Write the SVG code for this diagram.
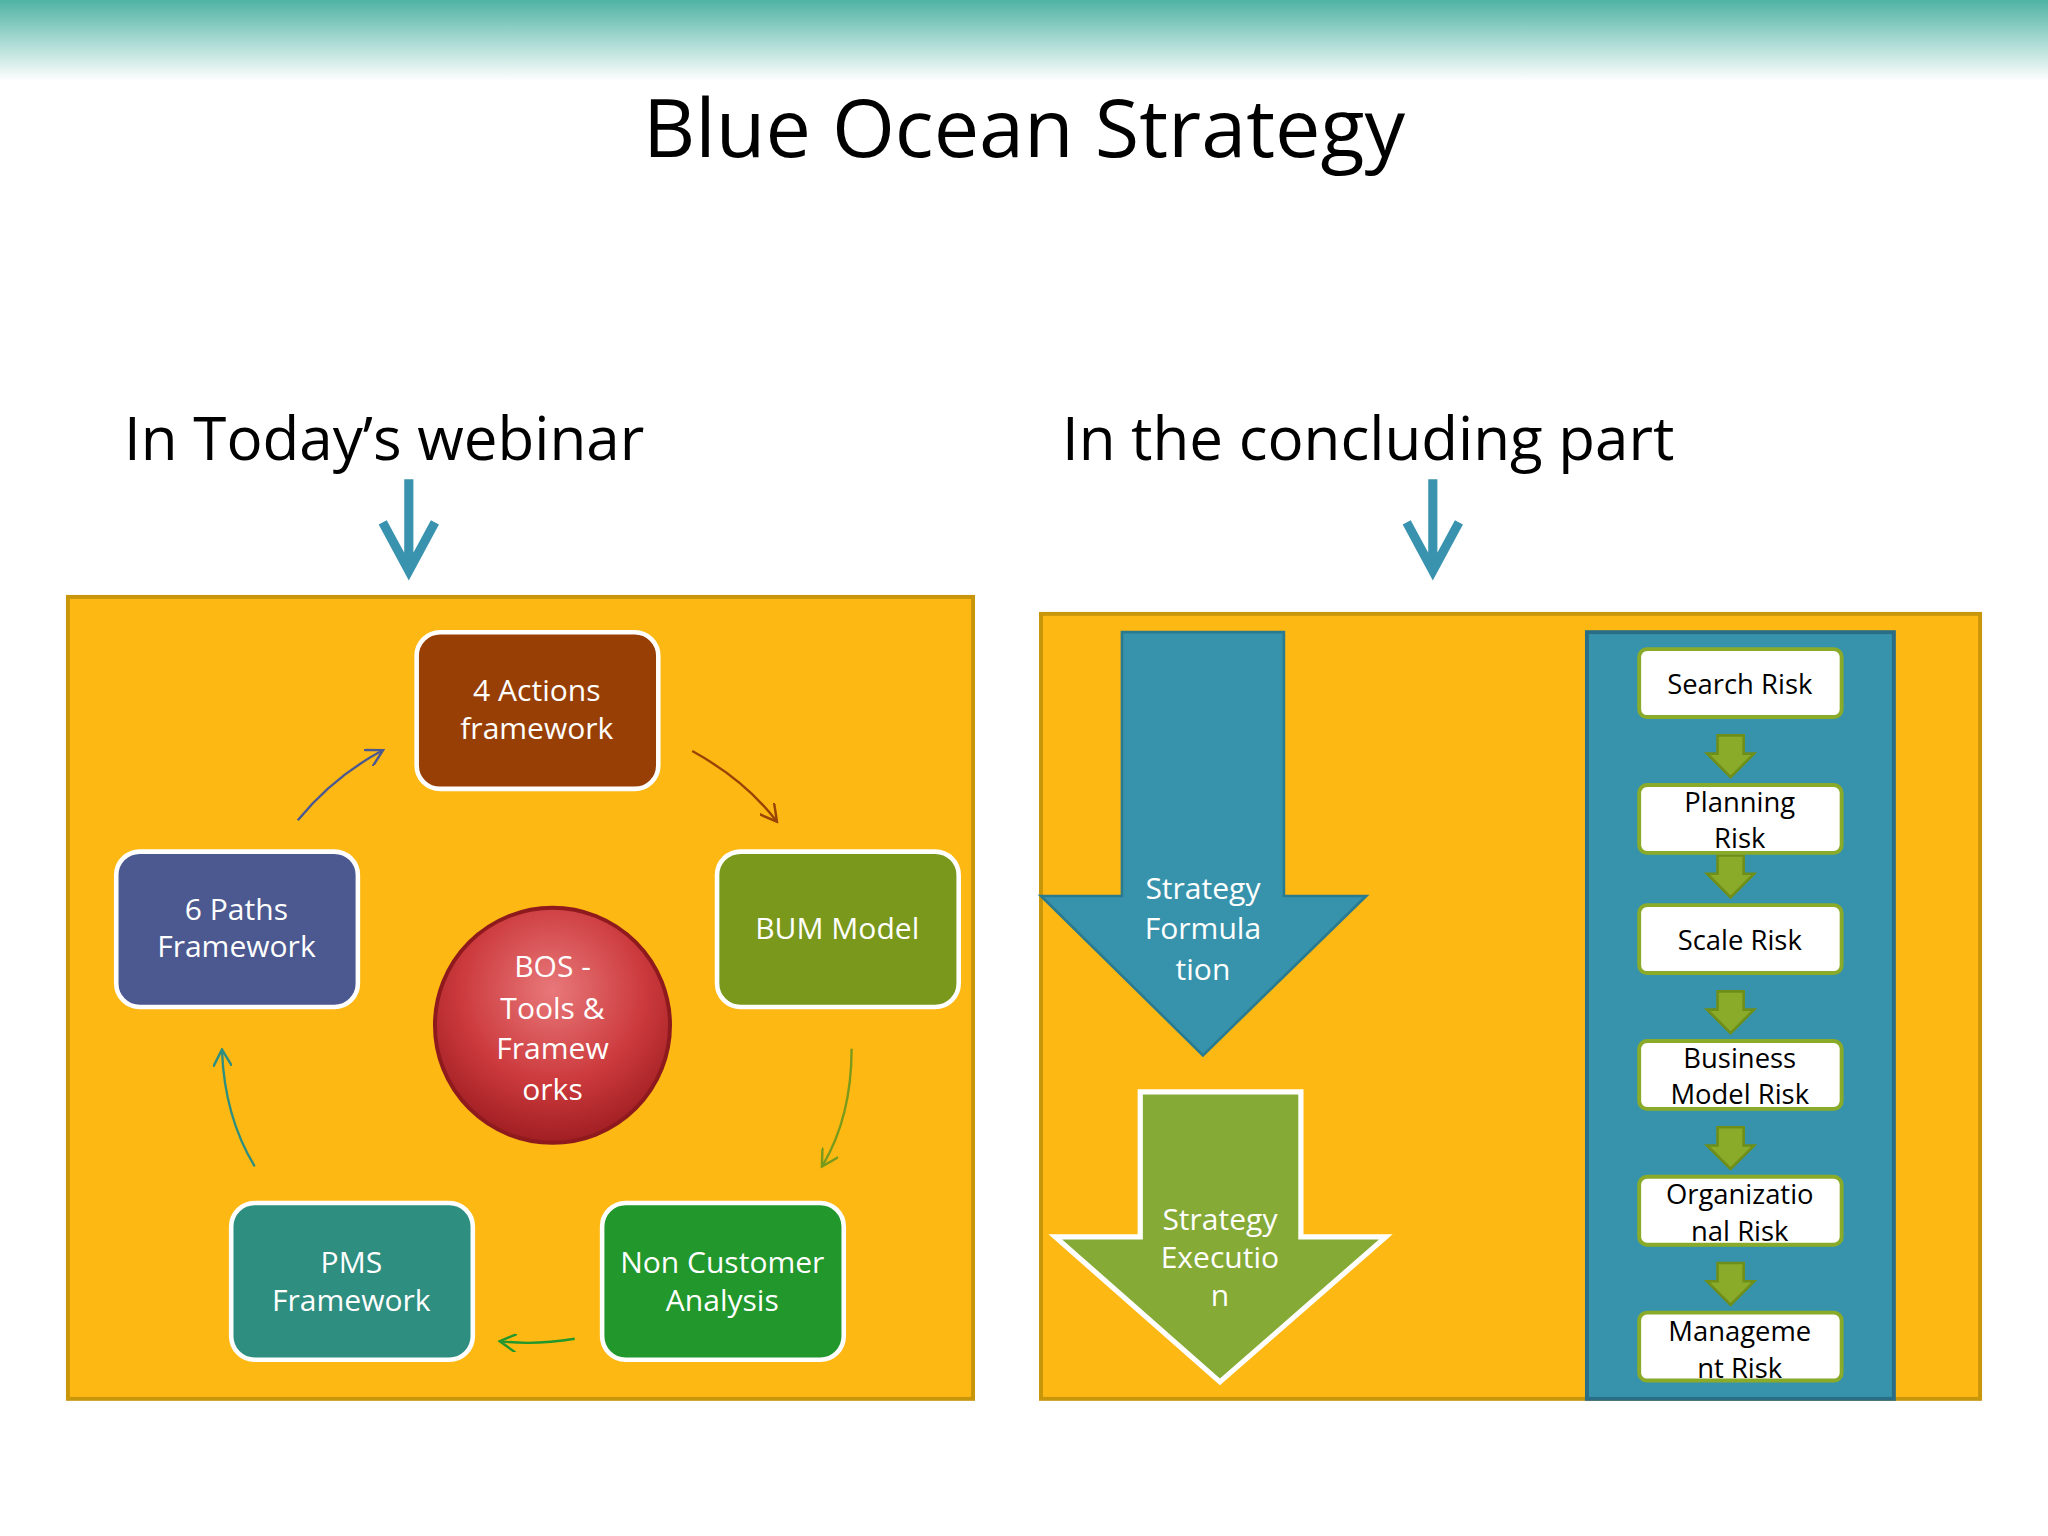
<svg xmlns="http://www.w3.org/2000/svg" width="2048" height="1536" viewBox="0 0 2048 1536">
<defs>
<linearGradient id="band" x1="0" y1="0" x2="0" y2="1"><stop offset="0" stop-color="#4FB3A4"/><stop offset="1" stop-color="#FFFFFF"/></linearGradient>
<radialGradient id="red" cx="0.5" cy="0.35" r="0.65"><stop offset="0" stop-color="#E8787A"/><stop offset="0.6" stop-color="#CC3A3D"/><stop offset="1" stop-color="#A01E22"/></radialGradient>
<marker id="ah" viewBox="0 0 10 10" refX="8" refY="5" markerWidth="8" markerHeight="8" orient="auto"><path d="M0,0 L9,5 L0,10" fill="none" stroke="context-stroke" stroke-width="1.3"/></marker>
<g id="sa"><polygon points="-10,0 10,0 10,14 18,14 0,32 -18,14 -10,14" fill="#8AAA2A" stroke="#6E8E1A" stroke-width="2"/></g>
</defs>
<style>
text{font-family:"Open Sans","Noto Sans",sans-serif}
.nd{stroke:#fff;stroke-width:3.5}
.wt{fill:#fff;font-size:23px;text-anchor:middle}
.bt{fill:#000;font-size:21px;text-anchor:middle}
.wb{fill:#fff;stroke:#8AAA2A;stroke-width:3}
.cn{fill:none;stroke-width:1.8;marker-end:url(#ah)}
</style>
<g transform="scale(1.30612)">
<rect x="0" y="0" width="1568" height="62" fill="url(#band)"/>
<text x="784" y="120" font-size="62" text-anchor="middle" fill="#000">Blue Ocean Strategy</text>
<text x="95" y="352" font-size="46" fill="#000">In Today’s webinar</text>
<text x="813" y="352" font-size="46" fill="#000">In the concluding part</text>
<g fill="none" stroke="#3A93AE" stroke-width="7">
<path d="M313,367 V437 M293,400 L313,437 L333,400"/>
<path d="M1097,367 V437 M1077,400 L1097,437 L1117,400"/>
</g>
<rect x="52" y="457" width="693" height="614" fill="#FDB813" stroke="#C8960A" stroke-width="3"/>
<rect x="797" y="470" width="719" height="601" fill="#FDB813" stroke="#C8960A" stroke-width="3"/>
<g id="n1"><rect class="nd" x="319" y="484" width="185" height="120" rx="18" fill="#983F06"/><text class="wt" x="411" y="537">4 Actions</text><text class="wt" x="411" y="566">framework</text></g>
<g id="n2"><rect class="nd" x="549" y="652" width="185" height="119" rx="18" fill="#7A981C"/><text class="wt" x="641" y="719">BUM Model</text></g>
<g id="n3"><rect class="nd" x="461" y="921" width="185" height="120" rx="18" fill="#21972C"/><text class="wt" x="553" y="975">Non Customer</text><text class="wt" x="553" y="1004">Analysis</text></g>
<g id="n4"><rect class="nd" x="177" y="921" width="185" height="120" rx="18" fill="#2E8E80"/><text class="wt" x="269" y="975">PMS</text><text class="wt" x="269" y="1004">Framework</text></g>
<g id="n5"><rect class="nd" x="89" y="652" width="185" height="119" rx="18" fill="#4B5990"/><text class="wt" x="181" y="704">6 Paths</text><text class="wt" x="181" y="733">Framework</text></g>
<g id="c0"><circle cx="423" cy="785" r="90" fill="url(#red)" stroke="#8E1A1E" stroke-width="3"/><text class="wt" x="423" y="748">BOS -</text><text class="wt" x="423" y="780">Tools &amp;</text><text class="wt" x="423" y="811">Framew</text><text class="wt" x="423" y="842">orks</text></g>
<g id="connectors">
<path class="cn" stroke="#9A4306" d="M530,575 Q570,597 594,628"/>
<path class="cn" stroke="#7A9A1C" d="M652,803 Q652,855 630,892"/>
<path class="cn" stroke="#21972C" d="M440,1025 Q410,1030 384,1027"/>
<path class="cn" stroke="#2E8E80" d="M195,893 Q172,855 170,805"/>
<path class="cn" stroke="#4B5990" d="M228,628 Q255,595 292,575"/>
</g>
<g id="sf"><polygon points="859,484 983,484 983,686 1046,686 921,808 797,686 859,686" fill="#3793AB" stroke="#2A7A90" stroke-width="2"/><text class="wt" x="921" y="688">Strategy</text><text class="wt" x="921" y="719">Formula</text><text class="wt" x="921" y="750">tion</text></g>
<g id="se"><polygon points="873,836 996,836 996,947 1061,947 934,1058 808,947 873,947" fill="#85AA35" stroke="#fff" stroke-width="4"/><text class="wt" x="934" y="942" font-size="21">Strategy</text><text class="wt" x="934" y="971" font-size="21">Executio</text><text class="wt" x="934" y="1000" font-size="21">n</text></g>
<rect x="1215" y="484" width="235" height="587" fill="#3793AB" stroke="#2A6E85" stroke-width="3"/>
<use href="#sa" x="1325" y="563"/><use href="#sa" x="1325" y="655"/><use href="#sa" x="1325" y="759"/><use href="#sa" x="1325" y="863"/><use href="#sa" x="1325" y="967"/>
<g id="r1"><rect class="wb" x="1255" y="497" width="155" height="52" rx="6"/><text class="bt" x="1332" y="531">Search Risk</text></g>
<g id="r2"><rect class="wb" x="1255" y="601" width="155" height="52" rx="6"/><text class="bt" x="1332" y="622">Planning</text><text class="bt" x="1332" y="649">Risk</text></g>
<g id="r3"><rect class="wb" x="1255" y="693" width="155" height="52" rx="6"/><text class="bt" x="1332" y="727">Scale Risk</text></g>
<g id="r4"><rect class="wb" x="1255" y="797" width="155" height="52" rx="6"/><text class="bt" x="1332" y="818">Business</text><text class="bt" x="1332" y="845">Model Risk</text></g>
<g id="r5"><rect class="wb" x="1255" y="901" width="155" height="52" rx="6"/><text class="bt" x="1332" y="922">Organizatio</text><text class="bt" x="1332" y="950">nal  Risk</text></g>
<g id="r6"><rect class="wb" x="1255" y="1005" width="155" height="52" rx="6"/><text class="bt" x="1332" y="1027">Manageme</text><text class="bt" x="1332" y="1055">nt Risk</text></g>
</g>
</svg>
